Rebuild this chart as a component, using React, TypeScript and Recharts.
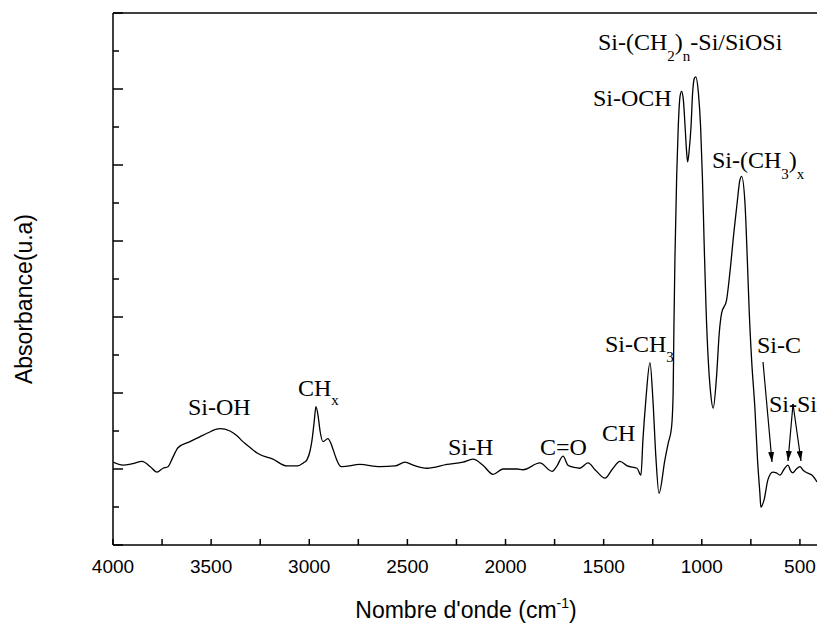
import { LineChart, Line, XAxis, YAxis, ReferenceLine } from "recharts";

const wavenumbers = [
  4000, 3949, 3900, 3852, 3810, 3776, 3745, 3720, 3694, 3669, 3608, 3560, 3521,
  3455, 3404, 3370, 3338, 3300, 3266, 3185, 3114, 3058, 3030, 3012, 2995, 2986,
  2975, 2966, 2955, 2945, 2930, 2905, 2890, 2879, 2860, 2843, 2833, 2742, 2640,
  2563, 2512, 2470, 2400, 2298, 2217, 2166, 2115, 2064, 2013, 1942, 1911, 1825,
  1763, 1740, 1707, 1682, 1650, 1621, 1580, 1540, 1493, 1455, 1417, 1380, 1330,
  1310, 1300, 1285, 1264, 1249, 1234, 1218, 1188, 1171, 1154, 1146, 1142, 1137,
  1128, 1120, 1111, 1103, 1094, 1085, 1077, 1072, 1064, 1055, 1047, 1038, 1031,
  1017, 1006, 997, 988, 978, 967, 955, 942, 925, 911, 899, 874, 857, 837, 820,
  806, 797, 780, 768, 758, 746, 729, 716, 704, 699, 683, 663, 638, 620, 602, 580,
  561, 548, 536, 518, 500, 482, 464, 439, 413,
];

const absorbance = [
  1.09, 1.05, 1.07, 1.1, 1.03, 0.96, 1.01, 1.03, 1.16, 1.28, 1.36, 1.42, 1.47,
  1.53, 1.5, 1.44, 1.36, 1.28, 1.21, 1.13, 1.04, 1.04, 1.08, 1.12, 1.25, 1.38,
  1.62, 1.82, 1.7, 1.5, 1.36, 1.4, 1.34, 1.26, 1.12, 1.04, 1.03, 1.06, 1.03,
  1.04, 1.09, 1.05, 1.01, 1.06, 1.09, 1.13, 1.05, 0.93, 1.0, 1.0, 0.99, 1.08,
  0.97, 1.03, 1.17, 1.05, 1.02, 1.01, 1.08, 0.98, 0.88, 1.0, 1.1, 1.04, 1.01,
  0.92, 1.38, 1.91, 2.4, 1.91, 1.16, 0.68, 1.12, 1.34, 1.55, 2.0, 2.87, 3.75,
  4.85, 5.5, 5.9, 5.97, 5.86, 5.5, 5.16, 5.04, 5.2, 5.5, 5.94, 6.14, 6.16,
  5.94, 5.5, 4.85, 3.97, 3.09, 2.43, 2.0, 1.8, 2.21, 2.79, 3.05, 3.22, 3.58,
  4.1, 4.5, 4.8, 4.85, 4.5, 3.75, 3.05, 2.43, 1.78, 1.12, 0.68, 0.5, 0.59, 0.86,
  0.96, 0.95, 0.92, 1.0, 1.05, 0.98, 0.95, 1.0, 1.03, 0.98, 0.95, 0.92, 0.83,
];

const xTicks = [
  500, 750, 1000, 1250, 1500, 1750, 2000, 2250, 2500, 2750, 3000, 3250, 3500,
  3750, 4000,
];
const yTicks = [0, 0.5, 1, 1.5, 2, 2.5, 3, 3.5, 4, 4.5, 5, 5.5, 6, 6.5, 7];

const data = wavenumbers.map((wn, i) => ({ wn, abs: absorbance[i] }));

const sans = "'Liberation Sans', Arial, sans-serif";
const serif = "'Liberation Serif', 'Times New Roman', serif";

// ticks point inward, so they are drawn by hand from the axis line
function XTick(props: any) {
  const { x, y, payload } = props;
  const v = payload.value;
  return (
    <g>
      <line x1={x} x2={x} y1={y} y2={y - 6} stroke="#000" strokeWidth={1.5} />
      {v % 500 === 0 && (
        <text x={x} y={y + 28} textAnchor="middle" fontSize={19} fontFamily={sans} fill="#000">
          {v}
        </text>
      )}
    </g>
  );
}

function YTick(props: any) {
  const { x, y, payload } = props;
  const len = payload.value % 1 === 0 ? 10 : 6;
  return <line x1={x} x2={x + len} y1={y} y2={y} stroke="#000" strokeWidth={1.5} />;
}

export default function App() {
  return (
    <div style={{ position: "absolute", left: 0, top: 0, width: 817, height: 624, background: "#fff" }}>
      <LineChart
        width={817}
        height={624}
        data={data}
        margin={{ top: 13, right: 0, bottom: 78, left: 112 }}
      >
        <XAxis
          dataKey="wn"
          type="number"
          domain={[413, 4000]}
          reversed
          allowDataOverflow
          ticks={xTicks}
          interval={0}
          height={1}
          tickSize={0}
          tickMargin={0}
          tickLine={false}
          tick={<XTick />}
          axisLine={{ stroke: "#000", strokeWidth: 1.5 }}
        />
        <YAxis
          type="number"
          domain={[0, 7]}
          ticks={yTicks}
          interval={0}
          width={1}
          tickSize={0}
          tickMargin={0}
          tickLine={false}
          tick={<YTick />}
          axisLine={{ stroke: "#000", strokeWidth: 1.5 }}
        />
        <ReferenceLine y={7} stroke="#000" strokeWidth={1.5} />
        <Line
          type="monotone"
          dataKey="abs"
          stroke="#000"
          strokeWidth={1.3}
          dot={false}
          isAnimationActive={false}
        />
      </LineChart>

      <svg
        width={817}
        height={624}
        style={{ position: "absolute", left: 0, top: 0, pointerEvents: "none" }}
      >
        <defs>
          <marker
            id="arrow"
            viewBox="0 0 10 6"
            refX={10}
            refY={3}
            markerWidth={10}
            markerHeight={6}
            markerUnits="userSpaceOnUse"
            orient="auto"
          >
            <path d="M0,0 L10,3 L0,6 z" fill="#000" />
          </marker>
        </defs>

        <text
          x={32}
          y={299}
          transform="rotate(-90 32 299)"
          textAnchor="middle"
          fontSize={23}
          fontFamily={sans}
        >
          Absorbance(u.a)
        </text>
        <text x={466} y={618} textAnchor="middle" fontSize={23} fontFamily={sans}>
          Nombre d'onde (cm
          <tspan fontSize={14} dy={-10}>-1</tspan>
          <tspan dy={10}>)</tspan>
        </text>

        {/* band labels */}
        <g fontFamily={serif} fontSize={24} fill="#000">
          <text x={188} y={415}>Si-OH</text>
          <text x={298} y={396}>
            CH<tspan fontSize={15} dy={9}>x</tspan>
          </text>
          <text x={448} y={455}>Si-H</text>
          <text x={540} y={455}>C=O</text>
          <text x={602} y={441}>CH</text>
          <text x={605} y={352}>
            Si-CH<tspan fontSize={15} dy={10}>3</tspan>
          </text>
          <text x={593} y={106}>Si-OCH</text>
          <text x={598} y={50}>
            Si-(CH<tspan fontSize={15} dy={11}>2</tspan>
            <tspan dy={-11}>)</tspan>
            <tspan fontSize={15} dy={11}>n</tspan>
            <tspan dy={-11}>-Si/SiOSi</tspan>
          </text>
          <text x={712} y={168}>
            Si-(CH<tspan fontSize={15} dy={11}>3</tspan>
            <tspan dy={-11}>)</tspan>
            <tspan fontSize={15} dy={11}>x</tspan>
          </text>
          <text x={757} y={353}>Si-C</text>
          <text x={769} y={412}>Si-Si</text>
        </g>

        <g stroke="#000" strokeWidth={1.2}>
          <line x1={763} y1={362} x2={772} y2={462} markerEnd="url(#arrow)" />
          <line x1={793} y1={404} x2={788} y2={461} markerEnd="url(#arrow)" />
          <line x1={793} y1={404} x2={801} y2={461} markerEnd="url(#arrow)" />
        </g>
      </svg>
    </div>
  );
}
